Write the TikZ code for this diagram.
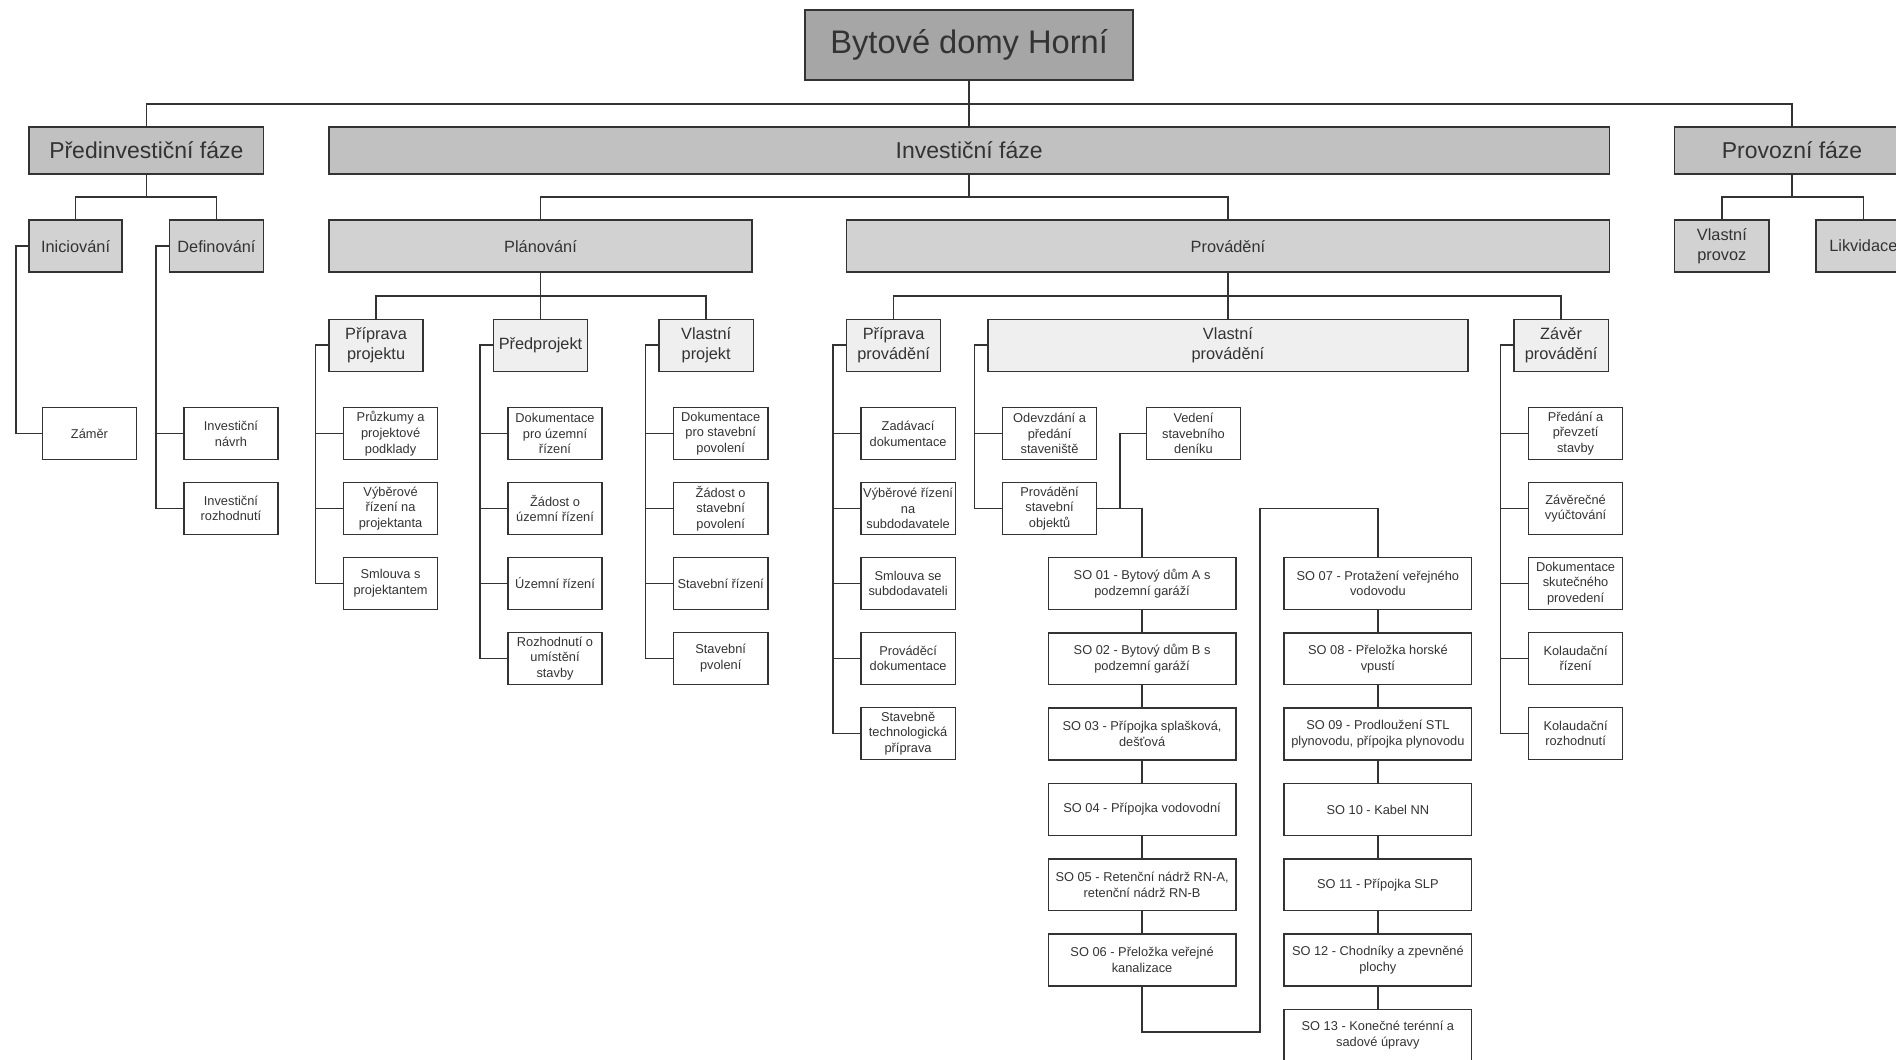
\documentclass[tikz,border=0pt]{standalone}
\usepackage{fontspec}
\setmainfont{Liberation Sans}
\definecolor{titlegray}{HTML}{A6A6A6}
\definecolor{phasegray}{HTML}{C0C1C0}
\definecolor{stagegray}{HTML}{D2D2D2}
\definecolor{subgray}{HTML}{EFEFEF}
\definecolor{inkgray}{HTML}{333333}
\tikzset{
  box/.style={draw=inkgray, line width=1.2pt, text=inkgray, align=center,
    inner sep=1pt, outer sep=0pt, anchor=north west},
  titlebox/.style={box, fill=titlegray, line width=1.5pt, minimum width=271pt,
    minimum height=58pt, font=\fontsize{27}{31}\selectfont},
  phasebox/.style={box, fill=phasegray, minimum height=39pt,
    font=\fontsize{19}{22}\selectfont},
  stagebox/.style={box, fill=stagegray, minimum height=43pt,
    font=\fontsize{13.5}{16}\selectfont},
  subbox/.style={box, fill=subgray, minimum height=43pt, minimum width=78pt,
    font=\fontsize{13.5}{16}\selectfont},
  leafbox/.style={box, fill=white, minimum height=43pt, minimum width=78pt,
    font=\fontsize{10.6}{13}\selectfont},
  sobox/.style={leafbox, minimum width=155pt},
  link/.style={draw=inkgray, line width=1.3pt}
}
\begin{document}
\begin{tikzpicture}[x=1pt, y=-1pt]
  \useasboundingbox (0,0) rectangle (1568,876);

  % Project
  \node[titlebox] (title) at (666,8) {Bytové domy Horní};

  % Phases
  \node[phasebox, minimum width=194pt] (predinv) at (24,105) {Předinvestiční fáze};
  \node[phasebox, minimum width=1059pt] (invest) at (272,105) {Investiční fáze};
  \node[phasebox, minimum width=194pt] (provoz) at (1385,105) {Provozní fáze};

  % Stages
  \node[stagebox, minimum width=77pt] (inic) at (24,182) {Iniciování};
  \node[stagebox, minimum width=78pt] (defin) at (140,182) {Definování};
  \node[stagebox, minimum width=350pt] (plan) at (272,182) {Plánování};
  \node[stagebox, minimum width=631pt] (prov) at (700,182) {Provádění};
  \node[stagebox, minimum width=78pt] (vprovoz) at (1385,182) {Vlastní\\provoz};
  \node[stagebox, minimum width=78pt] (likv) at (1502,182) {Likvidace};

  % Sub-stages
  \node[subbox] (pripproj) at (272,264) {Příprava\\projektu};
  \node[subbox] (predproj) at (408,264) {Předprojekt};
  \node[subbox] (vlproj) at (545,264) {Vlastní\\projekt};
  \node[subbox] (pripprov) at (700,264) {Příprava\\provádění};
  \node[subbox, minimum width=397pt] (vlprov) at (817,264) {Vlastní\\provádění};
  \node[subbox] (zaver) at (1252,264) {Závěr\\provádění};

  % Work packages
  \node[leafbox] (zamer) at (35,337) {Záměr};
  \node[leafbox] (invnavrh) at (152,337) {Investiční\\návrh};
  \node[leafbox] (invrozh) at (152,399) {Investiční\\rozhodnutí};

  \node[leafbox] (pruzkumy) at (284,337) {Průzkumy a\\projektové\\podklady};
  \node[leafbox] (vybproj) at (284,399) {Výběrové\\řízení na\\projektanta};
  \node[leafbox] (smlproj) at (284,461) {Smlouva s\\projektantem};

  \node[leafbox] (dokuz) at (420,337) {Dokumentace\\pro územní\\řízení};
  \node[leafbox] (zaduz) at (420,399) {Žádost o\\územní řízení};
  \node[leafbox] (uzriz) at (420,461) {Územní řízení};
  \node[leafbox] (rozhum) at (420,523) {Rozhodnutí o\\umístění\\stavby};

  \node[leafbox] (dokstav) at (557,337) {Dokumentace\\pro stavební\\povolení};
  \node[leafbox] (zadstav) at (557,399) {Žádost o\\stavební\\povolení};
  \node[leafbox] (stavriz) at (557,461) {Stavební řízení};
  \node[leafbox] (stavpov) at (557,523) {Stavební\\pvolení};

  \node[leafbox] (zadavaci) at (712,337) {Zadávací\\dokumentace};
  \node[leafbox] (vybsub) at (712,399) {Výběrové řízení\\na\\subdodavatele};
  \node[leafbox] (smlsub) at (712,461) {Smlouva se\\subdodavateli};
  \node[leafbox] (provdok) at (712,523) {Prováděcí\\dokumentace};
  \node[leafbox] (stavtech) at (712,585) {Stavebně\\technologická\\příprava};

  \node[leafbox] (odevzdani) at (829,337) {Odevzdání a\\předání\\staveniště};
  \node[leafbox] (provso) at (829,399) {Provádění\\stavební\\objektů};
  \node[leafbox] (vedeni) at (948,337) {Vedení\\stavebního\\deníku};

  \node[leafbox] (predani) at (1264,337) {Předání a\\převzetí\\stavby};
  \node[leafbox] (zaverecne) at (1264,399) {Závěrečné\\vyúčtování};
  \node[leafbox] (dokskut) at (1264,461) {Dokumentace\\skutečného\\provedení};
  \node[leafbox] (kolriz) at (1264,523) {Kolaudační\\řízení};
  \node[leafbox] (kolrozh) at (1264,585) {Kolaudační\\rozhodnutí};

  % Building objects
  \node[sobox] (so01) at (867,461) {SO 01 - Bytový dům A s\\podzemní garáží};
  \node[sobox] (so02) at (867,523.3) {SO 02 - Bytový dům B s\\podzemní garáží};
  \node[sobox] (so03) at (867,585.6) {SO 03 - Přípojka splašková,\\dešťová};
  \node[sobox] (so04) at (867,647.9) {SO 04 - Přípojka vodovodní};
  \node[sobox] (so05) at (867,710.2) {SO 05 - Retenční nádrž RN-A,\\retenční nádrž RN-B};
  \node[sobox] (so06) at (867,772.5) {SO 06 - Přeložka veřejné\\kanalizace};
  \node[sobox] (so07) at (1062,461) {SO 07 - Protažení veřejného\\vodovodu};
  \node[sobox] (so08) at (1062,523.3) {SO 08 - Přeložka horské\\vpustí};
  \node[sobox] (so09) at (1062,585.6) {SO 09 - Prodloužení STL\\plynovodu, přípojka plynovodu};
  \node[sobox] (so10) at (1062,647.9) {SO 10 - Kabel NN};
  \node[sobox] (so11) at (1062,710.2) {SO 11 - Přípojka SLP};
  \node[sobox] (so12) at (1062,772.5) {SO 12 - Chodníky a zpevněné\\plochy};
  \node[sobox] (so13) at (1062,834.8) {SO 13 - Konečné terénní a\\sadové úpravy};
  \coordinate (sobend) at (1042,420.5);

  % Tree links
  \draw[link] (title.south) -- (invest.north);
  \draw[link] (predinv.north) -- ++(0,-19) -| (provoz.north);

  \draw[link] (predinv.south) -- ++(0,19) coordinate (predbus);
  \draw[link] (inic.north) |- (predbus) -| (defin.north);
  \draw[link] (invest.south) -- ++(0,19) coordinate (investbus);
  \draw[link] (plan.north) |- (investbus) -| (prov.north);
  \draw[link] (provoz.south) -- ++(0,19) coordinate (provozbus);
  \draw[link] (vprovoz.north) |- (provozbus) -| (likv.north);

  \draw[link] (plan.south) -- ++(0,20) coordinate (planbus) -- (predproj.north);
  \draw[link] (pripproj.north) |- (planbus) -| (vlproj.north);
  \draw[link] (prov.south) -- ++(0,20) coordinate (provbus) -- (vlprov.north);
  \draw[link] (pripprov.north) |- (provbus) -| (zaver.north);

  % Brackets
  \draw[link] (inic.west) -- ++(-11,0) |- (zamer.west);
  \draw[link] (defin.west) -- ++(-11,0) |- (invrozh.west)
    (defin.west) ++(-11,0) |- (invnavrh.west);
  \draw[link] (pripproj.west) -- ++(-11,0) |- (smlproj.west)
    (pripproj.west) ++(-11,0) |- (pruzkumy.west)
    (pripproj.west) ++(-11,0) |- (vybproj.west);
  \draw[link] (predproj.west) -- ++(-11,0) |- (rozhum.west)
    (predproj.west) ++(-11,0) |- (dokuz.west)
    (predproj.west) ++(-11,0) |- (zaduz.west)
    (predproj.west) ++(-11,0) |- (uzriz.west);
  \draw[link] (vlproj.west) -- ++(-11,0) |- (stavpov.west)
    (vlproj.west) ++(-11,0) |- (dokstav.west)
    (vlproj.west) ++(-11,0) |- (zadstav.west)
    (vlproj.west) ++(-11,0) |- (stavriz.west);
  \draw[link] (pripprov.west) -- ++(-11,0) |- (stavtech.west)
    (pripprov.west) ++(-11,0) |- (zadavaci.west)
    (pripprov.west) ++(-11,0) |- (vybsub.west)
    (pripprov.west) ++(-11,0) |- (smlsub.west)
    (pripprov.west) ++(-11,0) |- (provdok.west);
  \draw[link] (vlprov.west) -- ++(-11,0) |- (provso.west)
    (vlprov.west) ++(-11,0) |- (odevzdani.west);
  \draw[link] (zaver.west) -- ++(-11,0) |- (kolrozh.west)
    (zaver.west) ++(-11,0) |- (predani.west)
    (zaver.west) ++(-11,0) |- (zaverecne.west)
    (zaver.west) ++(-11,0) |- (dokskut.west)
    (zaver.west) ++(-11,0) |- (kolriz.west);

  % Building object chain
  \draw[link] (provso.east) -| (so01.north);
  \draw[link] (provso.east) ++(19,0) |- (vedeni.west);
  \draw[link] (so01.south) -- (so02.north) (so02.south) -- (so03.north)
    (so03.south) -- (so04.north) (so04.south) -- (so05.north)
    (so05.south) -- (so06.north);
  \draw[link] (so06.south) -- ++(0,38) -| (sobend) -| (so07.north);
  \draw[link] (so07.south) -- (so08.north) (so08.south) -- (so09.north)
    (so09.south) -- (so10.north) (so10.south) -- (so11.north)
    (so11.south) -- (so12.north) (so12.south) -- (so13.north);
\end{tikzpicture}
\end{document}
